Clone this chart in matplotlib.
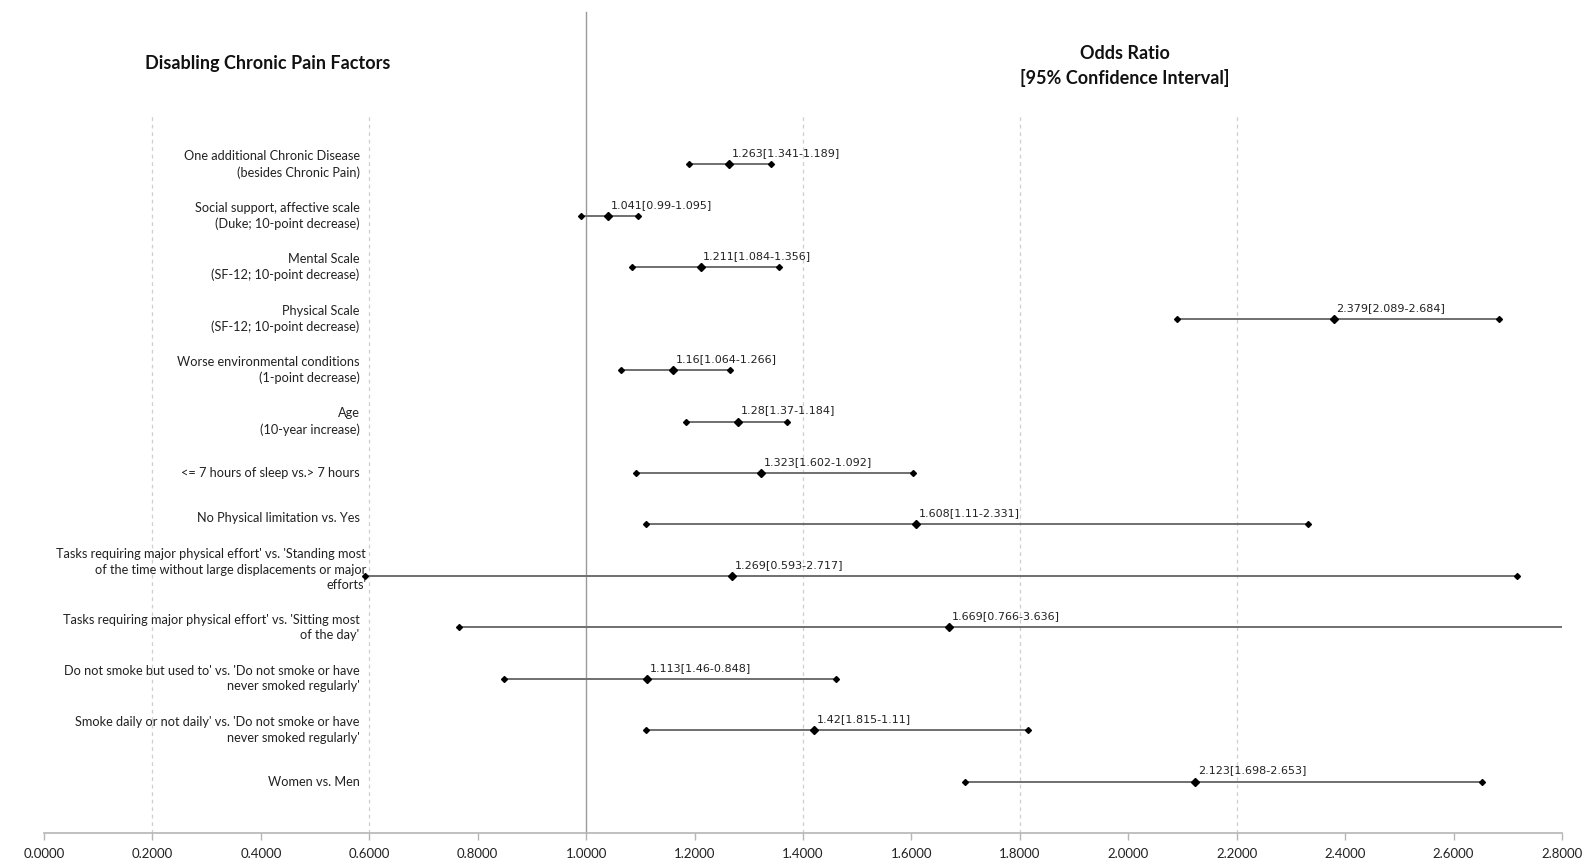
import matplotlib
matplotlib.use("Agg")
import matplotlib.pyplot as plt

plt.rcParams['font.family'] = ['Lato', 'DejaVu Sans']

# Factors, top to bottom
factors = [
    "One additional Chronic Disease\n(besides Chronic Pain)",
    "Social support, affective scale\n(Duke; 10-point decrease)",
    "Mental Scale\n(SF-12; 10-point decrease)",
    "Physical Scale\n(SF-12; 10-point decrease)",
    "Worse environmental conditions\n(1-point decrease)",
    "Age\n(10-year increase)",
    "<= 7 hours of sleep vs.> 7 hours",
    "No Physical limitation vs. Yes",
    "Tasks requiring major physical effort' vs. 'Standing most\nof the time without large displacements or major\nefforts'",
    "Tasks requiring major physical effort' vs. 'Sitting most\nof the day'",
    "Do not smoke but used to' vs. 'Do not smoke or have\nnever smoked regularly'",
    "Smoke daily or not daily' vs. 'Do not smoke or have\nnever smoked regularly'",
    "Women vs. Men",
]

# Odds ratio and the two reported interval bounds (in the order they are printed)
odds_ratio = [1.263, 1.041, 1.211, 2.379, 1.16, 1.28, 1.323, 1.608, 1.269, 1.669, 1.113, 1.42, 2.123]
bound_a = [1.341, 0.99, 1.084, 2.089, 1.064, 1.37, 1.602, 1.11, 0.593, 0.766, 1.46, 1.815, 1.698]
bound_b = [1.189, 1.095, 1.356, 2.684, 1.266, 1.184, 1.092, 2.331, 2.717, 3.636, 0.848, 1.11, 2.653]

x_ticks = [0.0, 0.2, 0.4, 0.6, 0.8, 1.0, 1.2, 1.4, 1.6, 1.8, 2.0, 2.2, 2.4, 2.6, 2.8]
grid_x = [0.2, 0.6, 1.4, 1.8, 2.2]

W, H = 1585, 859
fig = plt.figure(figsize=(W / 100, H / 100), dpi=100)
ax_left, ax_right = 44 / W, 1562 / W
ax_bottom, ax_top = (H - 833) / H, (H - 113) / H
ax = fig.add_axes([ax_left, ax_bottom, ax_right - ax_left, ax_top - ax_bottom])

n = len(factors)
ypos = [n - i for i in range(n)]

ax.set_xlim(0, 2.8)
ax.set_ylim(0, n + 1)

# dashed vertical gridlines
for gx in grid_x:
    ax.axvline(gx, color='#cfcfcf', lw=0.9, ls=(0, (3, 3)), zorder=0)

# reference line at OR = 1
ax.axvline(1.0, ymin=0, ymax=(833 - 12) / (833 - 113), color='#9a9a9a', lw=1.0,
           clip_on=False, zorder=1)

for y, orv, a, b in zip(ypos, odds_ratio, bound_a, bound_b):
    lo, hi = min(a, b), max(a, b)
    ax.plot([lo, hi], [y, y], color='#6f6f6f', lw=1.4, zorder=2, solid_capstyle='butt')
    ax.plot([lo, hi], [y, y], ls='none', marker='D', ms=3.0, color='black', zorder=3)
    ax.plot([orv], [y], ls='none', marker='D', ms=4.0, color='black', zorder=4)
    ax.annotate(f"{orv:g}[{a:g}-{b:g}]", xy=(orv, y), xytext=(2, 8),
                textcoords='offset points', ha='left', va='center',
                fontsize=8.0, family='DejaVu Sans', color='#222222', zorder=5)

# factor names, right-aligned left of the plot region
for y, name in zip(ypos, factors):
    lx = 0.594 if name.count("\n") == 2 else 0.582
    dy = 0.12 if name.startswith(("No Physical", "Tasks requiring major physical effort' vs. 'Standing")) else 0.0
    ax.text(lx, y + dy, name, ha='right', va='center', fontsize=9.2,
            color='#222222', linespacing=1.35, zorder=5)

# x axis styling
for side in ('left', 'right', 'top'):
    ax.spines[side].set_visible(False)
ax.spines['bottom'].set_color('#b5b5b5')
ax.spines['bottom'].set_linewidth(1.2)
ax.set_xticks(x_ticks)
ax.set_xticklabels([f"{t:.4f}" for t in x_ticks])
ax.tick_params(axis='x', direction='out', length=5, color='#b5b5b5', width=1.0,
               labelsize=9.5, labelcolor='#222222', pad=6)
ax.set_yticks([])

fig.text(268 / W, 1 - 64 / H, "Disabling Chronic Pain Factors", ha='center', va='center',
         fontsize=13, fontweight='bold', color='#111111')
fig.text(1125 / W, 1 - 66 / H, "Odds Ratio\n[95% Confidence Interval]", ha='center', va='center',
         fontsize=13, fontweight='bold', color='#111111', linespacing=1.45)

fig.savefig("out.png", dpi=100)
